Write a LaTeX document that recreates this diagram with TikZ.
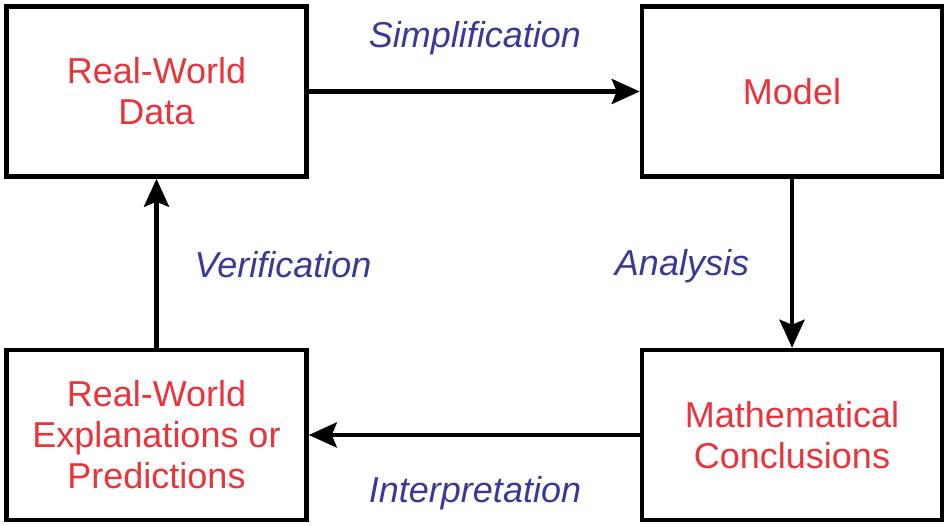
\documentclass[tikz,border=0pt]{standalone}
\usepackage{fontspec}
\setmainfont{Liberation Sans}
\usetikzlibrary{arrows.meta}
\definecolor{boxred}{RGB}{234,51,58}
\definecolor{lblblue}{RGB}{58,58,150}
\tikzset{
  stagebox/.style={draw=black, line width=4.5pt, minimum width=300pt, minimum height=170pt,
    inner sep=0pt, text=boxred, align=center, font=\fontsize{36}{41}\selectfont},
  flow/.style={line width=4.5pt, -{Stealth[length=28pt,width=25pt,inset=5pt]}},
  steplabel/.style={text=lblblue, font=\fontsize{36}{41}\selectfont\itshape, inner sep=0pt}
}
\begin{document}
\begin{tikzpicture}[x=1pt,y=-1pt]
\useasboundingbox (0,0) rectangle (948,526);
\node[stagebox] (data) at (156.5,91.5) {Real-World\\Data};
\node[stagebox] (model) at (792,91.5) {Model};
\node[stagebox] (concl) at (792,435) {Mathematical\\Conclusions};
\node[stagebox] (expl) at (156.5,435) {Real-World\\Explanations or\\Predictions};
\draw[flow] (data.east) -- (model.west);
\draw[flow] (model.south) -- (concl.north);
\draw[flow] (concl.west) -- (expl.east);
\draw[flow] (expl.north) -- (data.south);
\node[steplabel] (simp) at (475,38) {Simplification};
\node[steplabel] (anal) at (682,266) {Analysis};
\node[steplabel] (interp) at (475,493) {Interpretation};
\node[steplabel] (verif) at (283,265) {Verification};
\end{tikzpicture}
\end{document}
